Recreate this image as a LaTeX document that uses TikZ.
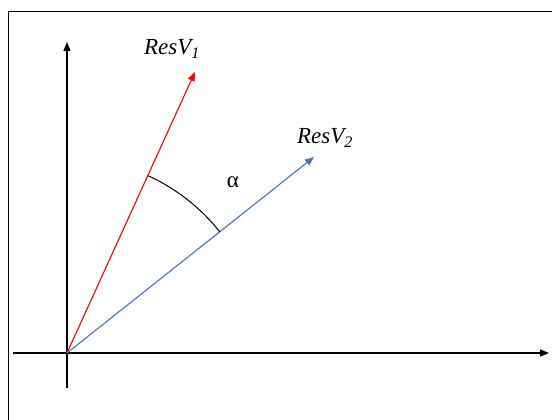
\documentclass[tikz,border=0pt]{standalone}
\usepackage{fontspec}
\setmainfont{Liberation Serif}
\usetikzlibrary{arrows.meta}
\begin{document}
\begin{tikzpicture}[x=1pt,y=-1pt,
  axis/.style={line width=1.3pt,-{Triangle[length=9pt,width=7pt]}},
  vec/.style={line width=1.1pt,-{Triangle[length=9pt,width=7pt]}},
  lbl/.style={font=\fontsize{23}{25}\selectfont\itshape,inner sep=0pt}]
\useasboundingbox (0,0) rectangle (552,420);
\draw[line width=1pt] (8,420) -- (8,12) -- (552,12);
\coordinate (O) at (67,353);
\coordinate (ybot) at (67,388);
\coordinate (ytop) at (67,42);
\coordinate (xl) at (13,353);
\coordinate (xr) at (549,353);
\coordinate (r) at (195,72);
\coordinate (b) at (314,157);
\draw[axis] (ybot) -- (ytop);
\draw[axis] (xl) -- (xr);
\draw[vec,red] (O) -- (r);
\draw[vec,color={rgb,255:red,68;green,114;blue,196}] (O) -- (b);
\draw[line width=1pt] (O) ++(-65.4:195) arc[start angle=-65.4,end angle=-38.4,radius=195];
\node[lbl] (l1) at (172,49) {ResV\textsubscript{1}};
\node[lbl] (l2) at (325,138) {ResV\textsubscript{2}};
\node[inner sep=0pt,font=\fontsize{23}{25}\selectfont] (al) at (233,182) {α};
\end{tikzpicture}
\end{document}
